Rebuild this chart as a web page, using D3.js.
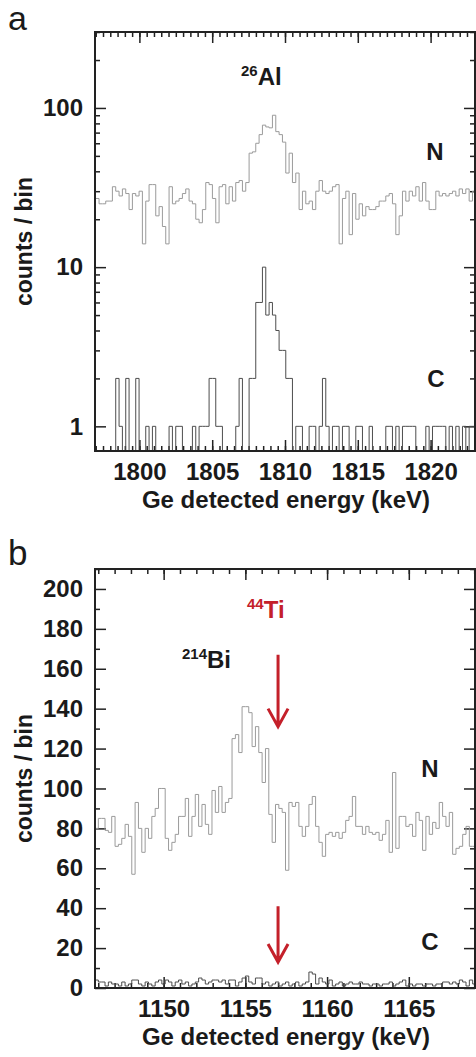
<!DOCTYPE html>
<html>
<head>
<meta charset="utf-8">
<script src="https://cdn.jsdelivr.net/npm/d3@7"></script>
<style>
  body { margin: 0; background: #fff; }
  svg { display: block; font-family: "Liberation Sans", Arial, sans-serif; }
</style>
</head>
<body>
<div id="chart"></div>
<script>
// panel a : 26Al line, counts per bin (N = normal, C = coincidence)
const alStart = 1797.0
const alBinWidth = 0.229
const alN = [27, 25, 25, 26, 26,
  32, 30, 28, 31, 29, 23, 29, 28, 30, 14,
  26, 33, 33, 21, 24, 18, 14, 32, 25, 26,
  27, 29, 31, 26, 25, 20, 19, 23, 34, 33,
  27, 19, 32, 33, 25, 32, 26, 34, 35, 30,
  34, 52, 53, 60, 68, 78, 76, 75, 90, 71,
  68, 61, 39, 52, 34, 39, 23, 30, 25, 26,
  23, 30, 35, 30, 29, 30, 32, 33, 14, 27,
  30, 16, 29, 20, 25, 21, 24, 23, 23, 24,
  26, 26, 28, 29, 25, 16, 21, 30, 26, 30,
  28, 32, 26, 34, 26, 23, 23, 30, 28, 29,
  28, 29, 30, 28, 31, 29, 31, 26, 30]
const alC = [0, 0, 0, 0, 0, 0, 2, 1, 0, 2,
  0, 0, 2, 0, 0, 1, 0, 1, 0, 0,
  0, 0, 1, 0, 1, 1, 0, 0, 0, 1,
  0, 1, 1, 1, 2, 2, 1, 1, 0, 0,
  0, 0, 1, 2, 0, 0, 2, 2, 6, 6,
  10, 5, 6, 5, 4, 3, 3, 2, 2, 0,
  1, 1, 0, 0, 1, 1, 0, 1, 2, 1,
  0, 1, 1, 0, 1, 1, 0, 0, 1, 1,
  0, 0, 1, 0, 0, 0, 0, 1, 1, 0,
  1, 0, 1, 1, 1, 1, 0, 0, 0, 1,
  0, 1, 1, 1, 1, 0, 1, 0, 1, 0,
  1, 0, 1, 1]
const alXTicks = [1800, 1805, 1810, 1815, 1820]
const alYTicks = [1, 10, 100]

// panel b : 44Ti region
const tiStart = 1145.8
const tiBinWidth = 0.2045
const tiN = [80, 85, 85, 79, 78, 86, 71, 72, 75, 82,
  76, 57, 93, 80, 68, 80, 75, 86, 90, 100,
  100, 75, 69, 73, 77, 86, 86, 95, 76, 86,
  97, 81, 92, 82, 77, 99, 88, 101, 88, 93,
  95, 125, 127, 118, 141, 141, 138, 121, 131, 118,
  103, 120, 87, 73, 92, 90, 88, 59, 93, 91,
  93, 81, 76, 81, 92, 96, 81, 73, 66, 77,
  78, 76, 78, 75, 78, 84, 86, 96, 81, 81,
  77, 81, 78, 77, 78, 74, 77, 84, 68, 108,
  70, 86, 86, 81, 82, 76, 88, 84, 69, 86,
  77, 83, 80, 93, 86, 81, 88, 67, 70, 71,
  77, 81, 71, 71]
const tiC = [4, 3, 3, 1, 3, 2, 2, 1, 3, 1,
  2, 4, 4, 2, 1, 3, 2, 1, 3, 4,
  2, 4, 3, 1, 3, 4, 2, 3, 1, 2,
  3, 5, 4, 2, 3, 4, 4, 3, 4, 2,
  4, 4, 1, 3, 5, 6, 3, 2, 5, 5,
  2, 3, 1, 2, 3, 1, 2, 3, 1, 2,
  3, 1, 2, 3, 8, 7, 2, 5, 3, 2,
  4, 1, 2, 3, 1, 2, 3, 2, 2, 3,
  2, 2, 1, 2, 2, 1, 2, 2, 3, 1,
  2, 3, 4, 1, 2, 1, 2, 2, 1, 2,
  2, 1, 2, 2, 3, 3, 2, 3, 2, 4,
  3, 1, 4, 2]
const tiXTicks = [1150, 1155, 1160, 1165]
const tiYTicks = [0, 20, 40, 60, 80, 100, 120, 140, 160, 180, 200]

// 44Ti line position and the two arrows (counts from -> to)
const arrowEnergy = 1157
const arrowSpans = [[167, 131], [41, 13]]

const width = 476
const height = 1057
const left = 95
const right = 475

const svg = d3.select('#chart')
  .append('svg')
  .attr('width', width)
  .attr('height', height)

function stepPath (x, y, start, w, values, floor) {
  const pts = values.map((v, i) => [start + i * w, v])
  pts.push([start + values.length * w, values[values.length - 1]])
  return d3.line()
    .x(d => x(d[0]))
    .y(d => y(Math.max(d[1], floor)))
    .curve(d3.curveStepAfter)(pts)
}

function ticks (g, axis) {
  g.call(axis)
  g.select('.domain').remove()
  g.selectAll('line').attr('stroke', '#222').attr('stroke-width', 1.5)
  g.selectAll('text')
    .attr('fill', '#1a1a1a')
    .style('font-size', '24px')
    .style('font-weight', 'bold')
    .style('font-family', '"Liberation Sans", Arial, sans-serif')
}

function drawPanel (p) {
  const { id, top, bottom, x, y, xMajor, xMinor, yMajor, yMinor, yFormat } = p
  const g = svg.append('g')

  g.append('clipPath').attr('id', 'clip-' + id)
    .append('rect')
    .attr('x', left).attr('y', top)
    .attr('width', right - left).attr('height', bottom - top)

  // minor + major ticks on all four sides, pointing inward
  const sides = [
    [() => d3.axisBottom(x), `translate(0,${bottom})`, xMajor, xMinor, d3.format('d')],
    [() => d3.axisTop(x), `translate(0,${top})`, xMajor, xMinor, null],
    [() => d3.axisLeft(y), `translate(${left},0)`, yMajor, yMinor, yFormat],
    [() => d3.axisRight(y), `translate(${right},0)`, yMajor, yMinor, null]
  ]
  sides.forEach(([make, tr, major, minor, fmt]) => {
    g.append('g').attr('transform', tr)
      .call(gg => ticks(gg, make().tickValues(minor).tickSize(-5).tickFormat('')))
    g.append('g').attr('transform', tr)
      .call(gg => ticks(gg, make().tickValues(major).tickSize(-11)
        .tickPadding(12).tickFormat(fmt || '')))
  })

  const plot = g.append('g').attr('clip-path', `url(#clip-${id})`)
  plot.append('path')
    .attr('d', stepPath(x, y, p.start, p.binWidth, p.nValues, p.floor))
    .attr('fill', 'none')
    .attr('stroke', '#9b9b9b')
    .attr('stroke-width', 1)
  plot.append('path')
    .attr('d', stepPath(x, y, p.start, p.binWidth, p.cValues, p.floor))
    .attr('fill', 'none')
    .attr('stroke', '#4d4d4d')
    .attr('stroke-width', 1)

  g.append('rect')
    .attr('x', left).attr('y', top)
    .attr('width', right - left).attr('height', bottom - top)
    .attr('fill', 'none')
    .attr('stroke', '#222')
    .attr('stroke-width', 2)

  // axis titles
  g.append('text')
    .attr('transform', `translate(32,${(top + bottom) / 2}) rotate(-90)`)
    .attr('text-anchor', 'middle')
    .style('font-size', '23px')
    .style('font-weight', 'bold')
    .attr('fill', '#1a1a1a')
    .text('counts / bin')
  g.append('text')
    .attr('x', 286)
    .attr('y', bottom + 57)
    .attr('text-anchor', 'middle')
    .style('font-size', '24px')
    .style('font-weight', 'bold')
    .attr('fill', '#1a1a1a')
    .text('Ge detected energy (keV)')

  return g
}

function label (g, txt, x, y, color, anchor) {
  g.append('text')
    .attr('x', x).attr('y', y)
    .attr('text-anchor', anchor || 'middle')
    .style('font-size', '24px')
    .style('font-weight', 'bold')
    .attr('fill', color || '#1a1a1a')
    .text(txt)
}

function isotope (g, mass, name, x, y, color) {
  const t = g.append('text')
    .attr('x', x).attr('y', y)
    .style('font-weight', 'bold')
    .attr('fill', color)
  t.append('tspan').attr('dy', -9).style('font-size', '15px').text(mass)
  t.append('tspan').attr('dy', 9).style('font-size', '24px').text(name)
}

// ---- panel a
const xa = d3.scaleLinear().domain([1796.95, 1823.05]).range([left, right])
const ya = d3.scaleLog().domain([0.7, 300]).range([451, 32]).clamp(true)
const logMinor = []
;[1, 10, 100].forEach(d => { for (let k = 2; k <= 9; k++) if (d * k <= 300) logMinor.push(d * k) })

const ga = drawPanel({
  id: 'a',
  top: 32,
  bottom: 451,
  x: xa,
  y: ya,
  xMajor: alXTicks,
  xMinor: d3.range(1797, 1823.01, 0.5),
  yMajor: alYTicks,
  yMinor: logMinor,
  yFormat: d3.format('d'),
  start: alStart,
  binWidth: alBinWidth,
  nValues: alN,
  cValues: alC,
  floor: 0.5
})
label(ga, 'N', 435, 160)
label(ga, 'C', 436, 387)
isotope(ga, '26', 'Al', 241, 85, '#1a1a1a')
svg.append('text').attr('x', 8).attr('y', 30)
  .style('font-size', '34px').attr('fill', '#1a1a1a').text('a')

// ---- panel b
const xb = d3.scaleLinear().domain([1145.8, 1169.05]).range([left, right])
const yb = d3.scaleLinear().domain([0, 210]).range([988, 569])

const gb = drawPanel({
  id: 'b',
  top: 569,
  bottom: 988,
  x: xb,
  y: yb,
  xMajor: tiXTicks,
  xMinor: d3.range(1146, 1169.01, 1),
  yMajor: tiYTicks,
  yMinor: d3.range(10, 211, 20),
  yFormat: d3.format('d'),
  start: tiStart,
  binWidth: tiBinWidth,
  nValues: tiN,
  cValues: tiC,
  floor: 0
})
label(gb, 'N', 430, 777)
label(gb, 'C', 430, 950)
isotope(gb, '214', 'Bi', 182, 668, '#1a1a1a')
isotope(gb, '44', 'Ti', 247, 618, '#c4202a')
svg.append('text').attr('x', 8).attr('y', 565)
  .style('font-size', '35px').attr('fill', '#1a1a1a').text('b')

// red arrows marking the 44Ti line
arrowSpans.forEach(([from, to]) => {
  const ax = xb(arrowEnergy)
  const y0 = yb(from)
  const y1 = yb(to)
  gb.append('path')
    .attr('d', `M${ax},${y0}V${y1 - 1}M${ax - 10},${y1 - 18}L${ax},${y1}L${ax + 10},${y1 - 18}`)
    .attr('fill', 'none')
    .attr('stroke', '#c4202a')
    .attr('stroke-width', 3)
})
</script>
</body>
</html>
